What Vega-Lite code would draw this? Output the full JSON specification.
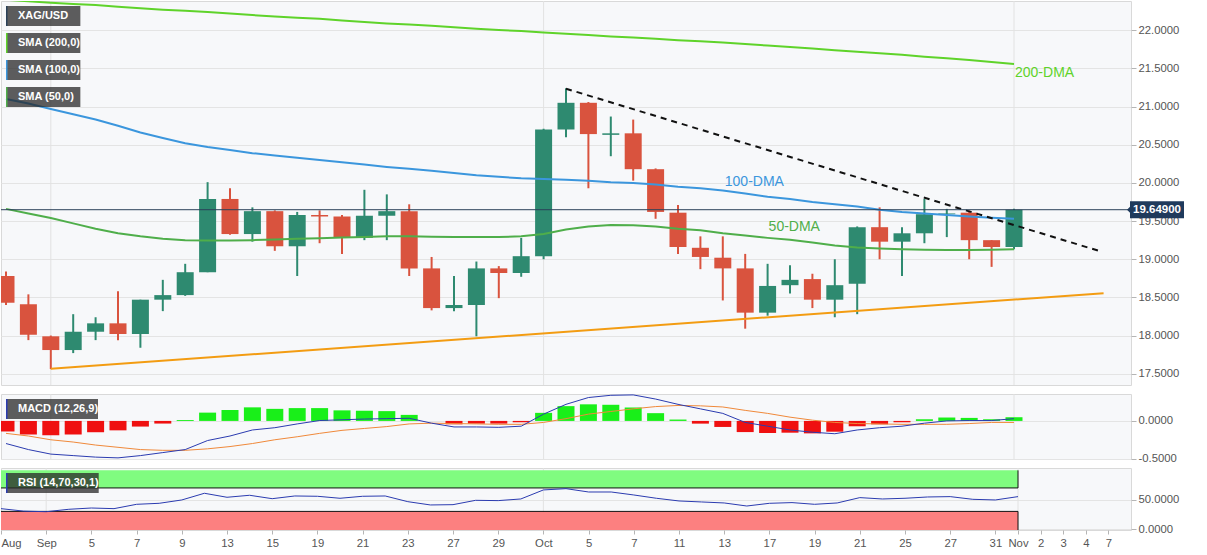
{
  "$schema": "https://vega.github.io/schema/vega-lite/v6.json",
  "padding": 0,
  "background": "#ffffff",
  "bounds": "flush",
  "spacing": 9,
  "resolve": {"scale": {"color": "independent", "y": "independent", "x": "independent"}, "legend": {"color": "independent"}},
  "config": {
    "view": {"fill": "#f7f8fa", "stroke": "#d9d9d9"},
    "axis": {"labelFont": "Liberation Sans", "labelFontSize": 11.3, "labelColor": "#555555", "tickColor": "#b5b5b5", "tickSize": 5, "domain": false, "gridColor": "#e4e4e4", "title": null, "labelPadding": 2},
    "text": {"font": "Liberation Sans"}
  },
  "datasets": {
    "daily": [
      {"idx":0,"date":"2022-08-30","open":18.78,"high":18.84,"low":18.40,"close":18.43,"sma200":22.40,"sma100":21.10,"sma50":19.66,"macd":-0.30,"signal":-0.165,"hist":-0.14,"rsi":34.7},
      {"idx":1,"date":"2022-08-31","open":18.41,"high":18.54,"low":17.94,"close":18.01,"sma200":22.38,"sma100":21.04,"sma50":19.60,"macd":-0.38,"signal":-0.20,"hist":-0.18,"rsi":30.5},
      {"idx":2,"date":"2022-09-01","open":17.99,"high":18.00,"low":17.56,"close":17.81,"sma200":22.36,"sma100":20.97,"sma50":19.54,"macd":-0.44,"signal":-0.25,"hist":-0.19,"rsi":29.5},
      {"idx":3,"date":"2022-09-02","open":17.81,"high":18.28,"low":17.77,"close":18.05,"sma200":22.345,"sma100":20.90,"sma50":19.47,"macd":-0.46,"signal":-0.28,"hist":-0.18,"rsi":33.6},
      {"idx":4,"date":"2022-09-05","open":18.05,"high":18.24,"low":17.94,"close":18.16,"sma200":22.33,"sma100":20.83,"sma50":19.40,"macd":-0.48,"signal":-0.32,"hist":-0.15,"rsi":35.8},
      {"idx":5,"date":"2022-09-06","open":18.16,"high":18.58,"low":17.94,"close":18.02,"sma200":22.31,"sma100":20.75,"sma50":19.34,"macd":-0.49,"signal":-0.35,"hist":-0.125,"rsi":34.7},
      {"idx":6,"date":"2022-09-07","open":18.02,"high":18.47,"low":17.84,"close":18.47,"sma200":22.29,"sma100":20.66,"sma50":19.30,"macd":-0.46,"signal":-0.38,"hist":-0.075,"rsi":42.1},
      {"idx":7,"date":"2022-09-08","open":18.47,"high":18.73,"low":18.32,"close":18.53,"sma200":22.27,"sma100":20.59,"sma50":19.27,"macd":-0.42,"signal":-0.39,"hist":-0.035,"rsi":43.8},
      {"idx":8,"date":"2022-09-09","open":18.53,"high":18.94,"low":18.52,"close":18.83,"sma200":22.255,"sma100":20.52,"sma50":19.25,"macd":-0.38,"signal":-0.39,"hist":0.012,"rsi":49.5},
      {"idx":9,"date":"2022-09-12","open":18.83,"high":20.01,"low":18.83,"close":19.79,"sma200":22.24,"sma100":20.47,"sma50":19.245,"macd":-0.26,"signal":-0.37,"hist":0.11,"rsi":60.9},
      {"idx":10,"date":"2022-09-13","open":19.79,"high":19.93,"low":19.32,"close":19.33,"sma200":22.22,"sma100":20.43,"sma50":19.245,"macd":-0.20,"signal":-0.34,"hist":0.145,"rsi":54.1},
      {"idx":11,"date":"2022-09-14","open":19.33,"high":19.68,"low":19.23,"close":19.63,"sma200":22.20,"sma100":20.39,"sma50":19.25,"macd":-0.12,"signal":-0.30,"hist":0.18,"rsi":57.5},
      {"idx":12,"date":"2022-09-15","open":19.63,"high":19.64,"low":19.11,"close":19.17,"sma200":22.18,"sma100":20.36,"sma50":19.26,"macd":-0.09,"signal":-0.25,"hist":0.16,"rsi":51.7},
      {"idx":13,"date":"2022-09-16","open":19.17,"high":19.62,"low":18.78,"close":19.58,"sma200":22.165,"sma100":20.33,"sma50":19.27,"macd":-0.04,"signal":-0.21,"hist":0.17,"rsi":56.3},
      {"idx":14,"date":"2022-09-19","open":19.58,"high":19.64,"low":19.21,"close":19.56,"sma200":22.15,"sma100":20.30,"sma50":19.275,"macd":0.005,"signal":-0.165,"hist":0.17,"rsi":55.8},
      {"idx":15,"date":"2022-09-20","open":19.56,"high":19.58,"low":19.07,"close":19.28,"sma200":22.13,"sma100":20.27,"sma50":19.285,"macd":0.015,"signal":-0.125,"hist":0.14,"rsi":52.4},
      {"idx":16,"date":"2022-09-21","open":19.28,"high":19.91,"low":19.25,"close":19.57,"sma200":22.11,"sma100":20.24,"sma50":19.29,"macd":0.025,"signal":-0.10,"hist":0.135,"rsi":55.8},
      {"idx":17,"date":"2022-09-22","open":19.57,"high":19.85,"low":19.25,"close":19.63,"sma200":22.09,"sma100":20.21,"sma50":19.30,"macd":0.03,"signal":-0.075,"hist":0.13,"rsi":56.3},
      {"idx":18,"date":"2022-09-23","open":19.63,"high":19.72,"low":18.78,"close":18.88,"sma200":22.075,"sma100":20.185,"sma50":19.30,"macd":0.035,"signal":-0.04,"hist":0.08,"rsi":46.6},
      {"idx":19,"date":"2022-09-26","open":18.88,"high":19.03,"low":18.33,"close":18.36,"sma200":22.06,"sma100":20.16,"sma50":19.295,"macd":-0.03,"signal":-0.03,"hist":0.0,"rsi":41.0},
      {"idx":20,"date":"2022-09-27","open":18.36,"high":18.78,"low":18.32,"close":18.40,"sma200":22.04,"sma100":20.13,"sma50":19.29,"macd":-0.08,"signal":-0.035,"hist":-0.045,"rsi":41.5},
      {"idx":21,"date":"2022-09-28","open":18.40,"high":18.97,"low":17.99,"close":18.88,"sma200":22.02,"sma100":20.10,"sma50":19.29,"macd":-0.08,"signal":-0.04,"hist":-0.036,"rsi":48.9},
      {"idx":22,"date":"2022-09-29","open":18.88,"high":18.91,"low":18.49,"close":18.82,"sma200":22.005,"sma100":20.08,"sma50":19.29,"macd":-0.085,"signal":-0.045,"hist":-0.036,"rsi":48.4},
      {"idx":23,"date":"2022-09-30","open":18.82,"high":19.28,"low":18.77,"close":19.04,"sma200":21.99,"sma100":20.06,"sma50":19.30,"macd":-0.07,"signal":-0.045,"hist":-0.018,"rsi":51.2},
      {"idx":24,"date":"2022-10-03","open":19.04,"high":20.71,"low":19.00,"close":20.70,"sma200":21.97,"sma100":20.05,"sma50":19.33,"macd":0.09,"signal":-0.02,"hist":0.107,"rsi":66.6},
      {"idx":25,"date":"2022-10-04","open":20.70,"high":21.24,"low":20.60,"close":21.05,"sma200":21.955,"sma100":20.04,"sma50":19.39,"macd":0.22,"signal":0.03,"hist":0.196,"rsi":68.8},
      {"idx":26,"date":"2022-10-05","open":21.05,"high":21.06,"low":19.93,"close":20.64,"sma200":21.94,"sma100":20.03,"sma50":19.43,"macd":0.31,"signal":0.09,"hist":0.22,"rsi":63.1},
      {"idx":27,"date":"2022-10-06","open":20.63,"high":20.87,"low":20.35,"close":20.65,"sma200":21.92,"sma100":20.01,"sma50":19.45,"macd":0.34,"signal":0.125,"hist":0.214,"rsi":63.1},
      {"idx":28,"date":"2022-10-07","open":20.65,"high":20.83,"low":20.03,"close":20.18,"sma200":21.905,"sma100":20.00,"sma50":19.445,"macd":0.345,"signal":0.16,"hist":0.178,"rsi":58.0},
      {"idx":29,"date":"2022-10-10","open":20.18,"high":20.19,"low":19.53,"close":19.62,"sma200":21.89,"sma100":19.98,"sma50":19.43,"macd":0.29,"signal":0.19,"hist":0.103,"rsi":52.4},
      {"idx":30,"date":"2022-10-11","open":19.61,"high":19.71,"low":19.07,"close":19.16,"sma200":21.87,"sma100":19.95,"sma50":19.40,"macd":0.22,"signal":0.205,"hist":0.018,"rsi":47.8},
      {"idx":31,"date":"2022-10-12","open":19.15,"high":19.30,"low":18.87,"close":19.03,"sma200":21.855,"sma100":19.93,"sma50":19.38,"macd":0.16,"signal":0.20,"hist":-0.036,"rsi":46.1},
      {"idx":32,"date":"2022-10-13","open":19.02,"high":19.30,"low":18.46,"close":18.88,"sma200":21.84,"sma100":19.90,"sma50":19.34,"macd":0.10,"signal":0.185,"hist":-0.08,"rsi":44.4},
      {"idx":33,"date":"2022-10-14","open":18.88,"high":19.07,"low":18.09,"close":18.30,"sma200":21.82,"sma100":19.86,"sma50":19.31,"macd":-0.02,"signal":0.14,"hist":-0.148,"rsi":39.2},
      {"idx":34,"date":"2022-10-17","open":18.30,"high":18.94,"low":18.26,"close":18.65,"sma200":21.80,"sma100":19.82,"sma50":19.28,"macd":-0.07,"signal":0.10,"hist":-0.16,"rsi":43.8},
      {"idx":35,"date":"2022-10-18","open":18.66,"high":18.92,"low":18.55,"close":18.73,"sma200":21.78,"sma100":19.79,"sma50":19.255,"macd":-0.12,"signal":0.05,"hist":-0.156,"rsi":45.0},
      {"idx":36,"date":"2022-10-19","open":18.74,"high":18.81,"low":18.36,"close":18.47,"sma200":21.76,"sma100":19.75,"sma50":19.22,"macd":-0.15,"signal":0.01,"hist":-0.165,"rsi":42.1},
      {"idx":37,"date":"2022-10-20","open":18.47,"high":19.00,"low":18.24,"close":18.66,"sma200":21.74,"sma100":19.72,"sma50":19.18,"macd":-0.17,"signal":-0.02,"hist":-0.143,"rsi":44.4},
      {"idx":38,"date":"2022-10-21","open":18.68,"high":19.43,"low":18.28,"close":19.42,"sma200":21.72,"sma100":19.69,"sma50":19.155,"macd":-0.12,"signal":-0.035,"hist":-0.071,"rsi":53.5},
      {"idx":39,"date":"2022-10-24","open":19.42,"high":19.68,"low":19.00,"close":19.23,"sma200":21.70,"sma100":19.65,"sma50":19.14,"macd":-0.09,"signal":-0.04,"hist":-0.045,"rsi":51.2},
      {"idx":40,"date":"2022-10-25","open":19.23,"high":19.42,"low":18.78,"close":19.34,"sma200":21.68,"sma100":19.62,"sma50":19.13,"macd":-0.07,"signal":-0.045,"hist":-0.018,"rsi":52.4},
      {"idx":41,"date":"2022-10-26","open":19.34,"high":19.79,"low":19.21,"close":19.59,"sma200":21.655,"sma100":19.60,"sma50":19.125,"macd":-0.03,"signal":-0.045,"hist":0.022,"rsi":54.6},
      {"idx":42,"date":"2022-10-27","open":19.59,"high":19.66,"low":19.29,"close":19.60,"sma200":21.635,"sma100":19.58,"sma50":19.12,"macd":0.0,"signal":-0.045,"hist":0.045,"rsi":55.2},
      {"idx":43,"date":"2022-10-28","open":19.61,"high":19.64,"low":19.00,"close":19.25,"sma200":21.61,"sma100":19.56,"sma50":19.12,"macd":0.005,"signal":-0.035,"hist":0.04,"rsi":50.6},
      {"idx":44,"date":"2022-10-31","open":19.25,"high":19.25,"low":18.90,"close":19.16,"sma200":21.585,"sma100":19.545,"sma50":19.125,"macd":0.005,"signal":-0.02,"hist":0.022,"rsi":49.5},
      {"idx":45,"date":"2022-11-01","open":19.16,"high":19.66,"low":19.13,"close":19.649,"sma200":21.56,"sma100":19.53,"sma50":19.13,"macd":0.03,"signal":-0.02,"hist":0.049,"rsi":55.2}
    ],
    "months": [
      {"idx": 2, "month": "Sep"},
      {"idx": 24, "month": "Oct"},
      {"idx": 45, "month": "Nov"}
    ],
    "trends": [
      {"line": "support", "idx": 2, "value": 17.565},
      {"line": "support", "idx": 49, "value": 18.555},
      {"line": "resistance", "idx": 25, "value": 21.235},
      {"line": "resistance", "idx": 48.9, "value": 19.10}
    ],
    "rsibands": [
      {"zone": "overbought", "lo": 70, "hi": 100, "edge": 70, "from": 0, "to": 45},
      {"zone": "oversold", "lo": -1.7, "hi": 30, "edge": 30, "from": 0, "to": 45}
    ]
  },
  "vconcat": [
    {
      "width": 1130,
      "height": 384,
      "layer": [
        {
          "data": {"name": "months"},
          "mark": {"type": "rule", "color": "#e2e2e2", "strokeWidth": 1},
          "encoding": {
            "x": {"field": "idx", "type": "quantitative", "scale": {"domain": [0, 50], "nice": false, "zero": false}, "axis": null}
          }
        },
        {
          "data": {"name": "daily"},
          "mark": {"type": "rule", "strokeWidth": 2, "clip": true},
          "encoding": {
            "x": {"field": "idx", "type": "quantitative"},
            "y": {"field": "low", "type": "quantitative", "scale": {"domain": [17.352, 22.384], "nice": false, "zero": false},
                  "axis": {"orient": "right", "values": [17.5, 18, 18.5, 19, 19.5, 20, 20.5, 21, 21.5, 22], "format": ".4f", "grid": true}},
            "y2": {"field": "high"},
            "color": {"condition": {"test": "datum.close >= datum.open", "value": "#2e8a70"}, "value": "#d9533e"}
          }
        },
        {
          "data": {"name": "daily"},
          "mark": {"type": "bar", "width": 17, "orient": "vertical", "clip": true},
          "encoding": {
            "x": {"field": "idx", "type": "quantitative"},
            "y": {"field": "open", "type": "quantitative"},
            "y2": {"field": "close"},
            "color": {"condition": {"test": "datum.close >= datum.open", "value": "#2e8a70"}, "value": "#d9533e"}
          }
        },
        {
          "data": {"name": "daily"},
          "mark": {"type": "line", "strokeWidth": 2, "clip": true},
          "encoding": {
            "x": {"field": "idx", "type": "quantitative"},
            "y": {"field": "sma200", "type": "quantitative"},
            "color": {
              "datum": "SMA (200,0)",
              "scale": {"domain": ["XAG/USD", "SMA (200,0)", "SMA (100,0)", "SMA (50,0)"], "range": ["#2a4158", "#5fd32a", "#3b96dd", "#4fae4a"]},
              "legend": {
                "title": null, "orient": "top-left", "offset": 5, "padding": 0, "rowPadding": 7, "clipHeight": 20,
                "symbolType": "M-1.3,-2V2H18V-2Z", "symbolSize": 100, "symbolStrokeWidth": 3,
                "symbolFillColor": "rgba(40,40,40,0.75)", "symbolDash": [20, 1000], "symbolOpacity": 1,
                "labelExpr": "datum.label + '\u00a0\u00a0\u00a0\u00a0\u00a0\u00a0'",
                "labelOffset": -1, "labelColor": "#ffffff", "labelFontSize": 11, "labelFontWeight": "bold", "labelFont": "Liberation Sans"
              }
            }
          }
        },
        {
          "data": {"name": "daily"},
          "mark": {"type": "line", "strokeWidth": 2, "clip": true},
          "encoding": {
            "x": {"field": "idx", "type": "quantitative"},
            "y": {"field": "sma100", "type": "quantitative"},
            "color": {"datum": "SMA (100,0)"}
          }
        },
        {
          "data": {"name": "daily"},
          "mark": {"type": "line", "strokeWidth": 2, "clip": true},
          "encoding": {
            "x": {"field": "idx", "type": "quantitative"},
            "y": {"field": "sma50", "type": "quantitative"},
            "color": {"datum": "SMA (50,0)"}
          }
        },
        {
          "data": {"name": "trends"},
          "transform": [{"filter": "datum.line === 'support'"}],
          "mark": {"type": "line", "color": "#f39c12", "strokeWidth": 2, "clip": true},
          "encoding": {
            "x": {"field": "idx", "type": "quantitative"},
            "y": {"field": "value", "type": "quantitative"}
          }
        },
        {
          "data": {"name": "trends"},
          "transform": [{"filter": "datum.line === 'resistance'"}],
          "mark": {"type": "line", "color": "#111111", "strokeWidth": 2, "strokeDash": [6, 5], "clip": true},
          "encoding": {
            "x": {"field": "idx", "type": "quantitative"},
            "y": {"field": "value", "type": "quantitative"}
          }
        },
        {
          "data": {"name": "daily"},
          "transform": [{"filter": "datum.idx === 45"}],
          "mark": {"type": "rule", "strokeWidth": 1},
          "encoding": {
            "y": {"field": "close", "type": "quantitative"},
            "color": {"datum": "XAG/USD"}
          }
        },
        {
          "data": {"name": "daily"},
          "transform": [{"filter": "datum.idx === 45"}],
          "mark": {"type": "text", "text": "200-DMA", "align": "left", "baseline": "middle", "dx": 1, "dy": 9, "fontSize": 14, "color": "#5fd32a"},
          "encoding": {
            "x": {"field": "idx", "type": "quantitative"},
            "y": {"field": "sma200", "type": "quantitative"}
          }
        },
        {
          "data": {"name": "daily"},
          "transform": [{"filter": "datum.idx === 32"}],
          "mark": {"type": "text", "text": "100-DMA", "align": "left", "baseline": "middle", "dx": 2, "dy": -8.5, "fontSize": 14, "color": "#3b96dd"},
          "encoding": {
            "x": {"field": "idx", "type": "quantitative"},
            "y": {"field": "sma100", "type": "quantitative"}
          }
        },
        {
          "data": {"name": "daily"},
          "transform": [{"filter": "datum.idx === 34"}],
          "mark": {"type": "text", "text": "50-DMA", "align": "left", "baseline": "middle", "dx": 1, "dy": -11, "fontSize": 14, "color": "#4fae4a"},
          "encoding": {
            "x": {"field": "idx", "type": "quantitative"},
            "y": {"field": "sma50", "type": "quantitative"}
          }
        },
        {
          "data": {"name": "daily"},
          "transform": [{"filter": "datum.idx === 45"}],
          "mark": {"type": "point", "shape": "M0.1,0L0.4,-0.3V-0.85H5.8V0.85H0.4V0.3Z", "size": 400, "filled": true, "color": "#1f3a5c", "opacity": 1, "strokeWidth": 0},
          "encoding": {
            "x": {"datum": 50, "type": "quantitative"},
            "y": {"field": "close", "type": "quantitative"}
          }
        },
        {
          "data": {"name": "daily"},
          "transform": [{"filter": "datum.idx === 45"}],
          "mark": {"type": "text", "align": "left", "baseline": "middle", "dx": 7, "fontSize": 11.5, "fontWeight": "bold", "color": "#ffffff"},
          "encoding": {
            "x": {"datum": 50, "type": "quantitative"},
            "y": {"field": "close", "type": "quantitative"},
            "text": {"field": "close", "type": "quantitative", "format": ".5f"}
          }
        }
      ]
    },
    {
      "width": 1130,
      "height": 65,
      "layer": [
        {
          "data": {"name": "months"},
          "mark": {"type": "rule", "color": "#e2e2e2", "strokeWidth": 1},
          "encoding": {
            "x": {"field": "idx", "type": "quantitative", "scale": {"domain": [0, 50], "nice": false, "zero": false}, "axis": null}
          }
        },
        {
          "data": {"name": "daily"},
          "mark": {"type": "bar", "width": 17, "orient": "vertical", "clip": true},
          "encoding": {
            "x": {"field": "idx", "type": "quantitative"},
            "y": {"field": "hist", "type": "quantitative", "scale": {"domain": [-0.505, 0.357], "nice": false, "zero": false},
                  "axis": {"orient": "right", "values": [0, -0.5], "grid": true, "labelExpr": "replace(format(datum.value, '.4f'), '−', '-')"}},
            "y2": {"datum": 0},
            "color": {"condition": {"test": "datum.hist >= 0", "value": "#19ef19"}, "value": "#ef1010"}
          }
        },
        {
          "data": {"name": "daily"},
          "mark": {"type": "line", "color": "#f0893a", "strokeWidth": 1, "clip": true},
          "encoding": {
            "x": {"field": "idx", "type": "quantitative"},
            "y": {"field": "signal", "type": "quantitative"}
          }
        },
        {
          "data": {"name": "daily"},
          "mark": {"type": "line", "strokeWidth": 1, "clip": true},
          "encoding": {
            "x": {"field": "idx", "type": "quantitative"},
            "y": {"field": "macd", "type": "quantitative"},
            "color": {
              "datum": "MACD (12,26,9)",
              "scale": {"range": ["#2b3bb0"]},
              "legend": {
                "title": null, "orient": "top-left", "offset": 5, "padding": 0, "clipHeight": 20,
                "symbolType": "M-1.3,-2V2H22V-2Z", "symbolSize": 100, "symbolStrokeWidth": 3,
                "symbolFillColor": "rgba(40,40,40,0.75)", "symbolDash": [20, 1000], "symbolOpacity": 1,
                "labelExpr": "datum.label + '\u00a0\u00a0\u00a0\u00a0\u00a0\u00a0'",
                "labelOffset": -1, "labelColor": "#ffffff", "labelFontSize": 11, "labelFontWeight": "bold", "labelFont": "Liberation Sans"
              }
            }
          }
        }
      ]
    },
    {
      "width": 1130,
      "height": 62,
      "layer": [
        {
          "data": {"name": "months"},
          "mark": {"type": "rule", "color": "#e2e2e2", "strokeWidth": 1},
          "encoding": {
            "x": {"field": "idx", "type": "quantitative", "scale": {"domain": [0, 50], "nice": false, "zero": false},
                  "axis": {"orient": "bottom", "values": [0,2,4,6,8,10,12,14,16,18,20,22,24,26,28,30,32,34,36,38,40,42,44,45,46,47,48,49],
                           "labelExpr": "['Aug','','Sep','','5','','7','','9','','13','','15','','19','','21','','23','','27','','29','','Oct','','5','','7','','11','','13','','17','','19','','21','','25','','27','','31','Nov','2','3','4','7'][datum.value]",
                           "labelFlush": 1, "grid": false, "ticks": true, "tickSize": 4, "labelPadding": 3}}
          }
        },
        {
          "data": {"name": "rsibands"},
          "mark": {"type": "rect", "opacity": 1, "clip": true},
          "encoding": {
            "x": {"field": "from", "type": "quantitative"},
            "x2": {"field": "to"},
            "y": {"field": "lo", "type": "quantitative", "scale": {"domain": [-1.7, 104], "nice": false, "zero": false},
                  "axis": {"orient": "right", "values": [0, 50], "format": ".4f", "grid": true}},
            "y2": {"field": "hi"},
            "color": {"condition": {"test": "datum.zone === 'overbought'", "value": "#80fc80"}, "value": "#fc8080"}
          }
        },
        {
          "data": {"name": "rsibands"},
          "mark": {"type": "rule", "color": "#111111", "strokeWidth": 1, "clip": true},
          "encoding": {
            "x": {"field": "from", "type": "quantitative"},
            "x2": {"field": "to"},
            "y": {"field": "edge", "type": "quantitative"}
          }
        },
        {
          "data": {"name": "rsibands"},
          "mark": {"type": "rule", "color": "#111111", "strokeWidth": 1, "clip": true},
          "encoding": {
            "x": {"field": "to", "type": "quantitative"},
            "y": {"field": "lo", "type": "quantitative"},
            "y2": {"field": "hi"}
          }
        },
        {
          "data": {"name": "daily"},
          "mark": {"type": "line", "strokeWidth": 1, "clip": true},
          "encoding": {
            "x": {"field": "idx", "type": "quantitative"},
            "y": {"field": "rsi", "type": "quantitative"},
            "color": {
              "datum": "RSI (14,70,30,1)",
              "scale": {"range": ["#2b3bb0"]},
              "legend": {
                "title": null, "orient": "top-left", "offset": 5, "padding": 0, "clipHeight": 20,
                "symbolType": "M-1.3,-2V2H22V-2Z", "symbolSize": 100, "symbolStrokeWidth": 3,
                "symbolFillColor": "rgba(40,40,40,0.75)", "symbolStrokeColor": "#3cc43c", "symbolDash": [20, 1000], "symbolOpacity": 1,
                "labelExpr": "datum.label + '\u00a0\u00a0\u00a0\u00a0\u00a0\u00a0'",
                "labelOffset": -1, "labelColor": "#ffffff", "labelFontSize": 11, "labelFontWeight": "bold", "labelFont": "Liberation Sans"
              }
            }
          }
        }
      ]
    }
  ]
}
